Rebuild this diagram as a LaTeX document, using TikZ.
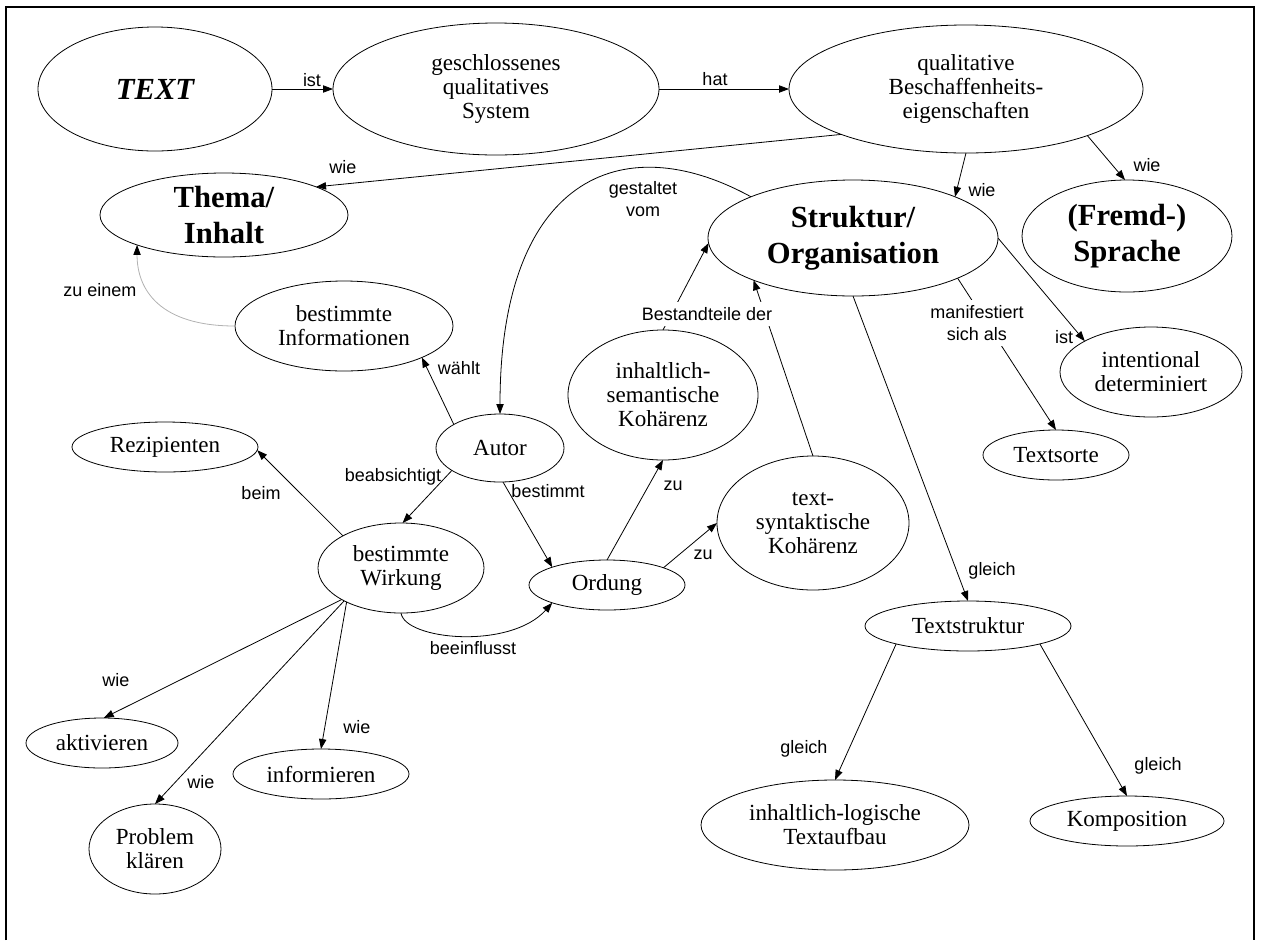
\documentclass[tikz,border=0pt]{standalone}
\usepackage{fontspec}
\setmainfont{Liberation Serif}
\newfontfamily\labelfont{Liberation Sans}
\usetikzlibrary{shapes.geometric,arrows.meta}

\begin{document}
\begin{tikzpicture}[x=0.75pt,y=-0.75pt,
  concept/.style args={#1/#2}{ellipse, draw=black, line width=0.6pt,
    inner sep=0pt, outer sep=0pt, minimum width=#1*1.5pt, minimum height=#2*1.5pt,
    align=center, font=\fontsize{17.3}{18}\selectfont},
  bold/.style={font=\fontsize{23}{27}\selectfont\bfseries},
  lbl/.style={font=\labelfont\fontsize{13.5}{16}\selectfont, inner sep=1pt, align=center},
  gap/.style={fill=white, inner sep=4pt},
  conn/.style={draw=black, line width=0.6pt, -{Triangle[length=7.5pt,width=5.5pt]}},
  faint/.style={draw=gray!60, line width=0.6pt, -{Triangle[length=7.5pt,width=5.5pt,color=black]}}]

\useasboundingbox (0,0) rectangle (1261,940);

% frame, open at the bottom
\draw[line width=1.6pt, line join=miter] (6,940) -- (6,7) -- (1254,7) -- (1254,940);

% concepts
\node[concept=117/62, bold] (txt) at (155,89) {\itshape TEXT};
\node[concept=163/66] (gqs) at (496,89) {geschlossenes\\qualitatives\\System};
\node[concept=177/64] (qual) at (966,89) {qualitative\\Beschaffenheits-\\eigenschaften};
\node[concept=124/42, bold] (thema) at (224,215) {Thema/\\Inhalt};
\node[concept=145/58, bold] (struk) at (853,238) {Struktur/\\Organisation};
\node[concept=105/56, bold] (fremd) at (1127,236) {(Fremd-)\\Sprache};
\node[concept=109/45] (info) at (344,326) {bestimmte\\Informationen};
\node[concept=95/65] (insem) at (663,395) {inhaltlich-\\semantische\\Kohärenz};
\node[concept=91/45] (intent) at (1151,372) {intentional\\determiniert};
\node[concept=93/25] (rezip) at (165,447) {Rezipienten};
\node[concept=64/34] (autor) at (500,448) {Autor};
\node[concept=73/25] (sorte) at (1056,455) {Textsorte};
\node[concept=83/45] (wirk) at (401,568) {bestimmte\\Wirkung};
\node[concept=78/25] (ord) at (607,585) {Ordung};
\node[concept=96/67] (tsyn) at (813,523) {text-\\syntaktische\\Kohärenz};
\node[concept=103/25] (tstr) at (968,626) {Textstruktur};
\node[concept=76/25] (aktiv) at (102,743) {aktivieren};
\node[concept=88/25] (inform) at (321,774) {informieren};
\node[concept=66/45] (probl) at (155,849) {Problem\\klären};
\node[concept=134/45] (aufbau) at (835,825) {inhaltlich-logische\\Textaufbau};
\node[concept=97/25] (kompos) at (1127,821) {Komposition};

% connectors
\draw[conn] (txt.east) -- (gqs.west);
\draw[conn] (gqs.east) -- (qual.west);
\draw[conn] (qual.200) -- (thema.17);
\draw[conn] (qual.270) -- (struk.22);
\draw[conn] (qual.339) -- (fremd.92);
\draw[conn] (struk.158) .. controls (620,125) and (500,180) .. (autor.north);
\draw[faint] (info.west) .. controls (160,326) and (137,290) .. (thema.199);
\draw[conn] (autor.153) -- (info.338);
\draw[conn] (wirk.151) -- (rezip.358);
\draw[conn] (autor.205) -- (wirk.88);
\draw[conn] (autor.275) -- (ord.162);
\draw[conn] (wirk.south) .. controls (405,640) and (510,650) .. (ord.198);
\draw[conn] (ord.north) -- (insem.south);
\draw[conn] (ord.17) -- (tsyn.west);
\draw[conn] (insem.north) -- (struk.182);
\draw[conn] (tsyn.north) -- (struk.203);
\draw[conn] (struk.south) -- (tstr.north);
\draw[conn] (struk.339) -- (sorte.north);
\draw[conn] (struk.east) -- (intent.155);
\draw[conn] (tstr.194) -- (aufbau.north);
\draw[conn] (tstr.346) -- (kompos.north);
\draw[conn] (wirk.208) -- (aktiv.86);
\draw[conn] (wirk.210) -- (probl.north);
\draw[conn] (wirk.212) -- (inform.north);

% connector labels
\node[lbl] (l-ist) at (312,80) {ist};
\node[lbl] (l-hat) at (715,79) {hat};
\node[lbl] (l-wie1) at (343,167) {wie};
\node[lbl] (l-wie2) at (982,190) {wie};
\node[lbl] (l-wie3) at (1147,165) {wie};
\node[lbl] (l-gest) at (643,199) {gestaltet\\vom};
\node[lbl] (l-zueinem) at (100,290) {zu einem};
\node[lbl] (l-waehlt) at (459,368) {wählt};
\node[lbl] (l-beim) at (261,493) {beim};
\node[lbl] (l-beab) at (393,477) {beabsichtigt};
\node[lbl] (l-best) at (548,491) {bestimmt};
\node[lbl] (l-beein) at (473,648) {beeinflusst};
\node[lbl] (l-zu1) at (673,486) {zu};
\node[lbl] (l-zu2) at (703,555) {zu};
\node[lbl, gap] (l-bestand) at (707,314) {Bestandteile der};
\node[lbl, gap] (l-manif) at (977,323) {manifestiert\\sich als};
\node[lbl] (l-ist2) at (1064,337) {ist};
\node[lbl] (l-gleich1) at (992,571) {gleich};
\node[lbl] (l-gleich2) at (804,749) {gleich};
\node[lbl] (l-gleich3) at (1158,766) {gleich};
\node[lbl] (l-wie4) at (116,680) {wie};
\node[lbl] (l-wie5) at (201,782) {wie};
\node[lbl] (l-wie6) at (357,727) {wie};
\end{tikzpicture}
\end{document}
